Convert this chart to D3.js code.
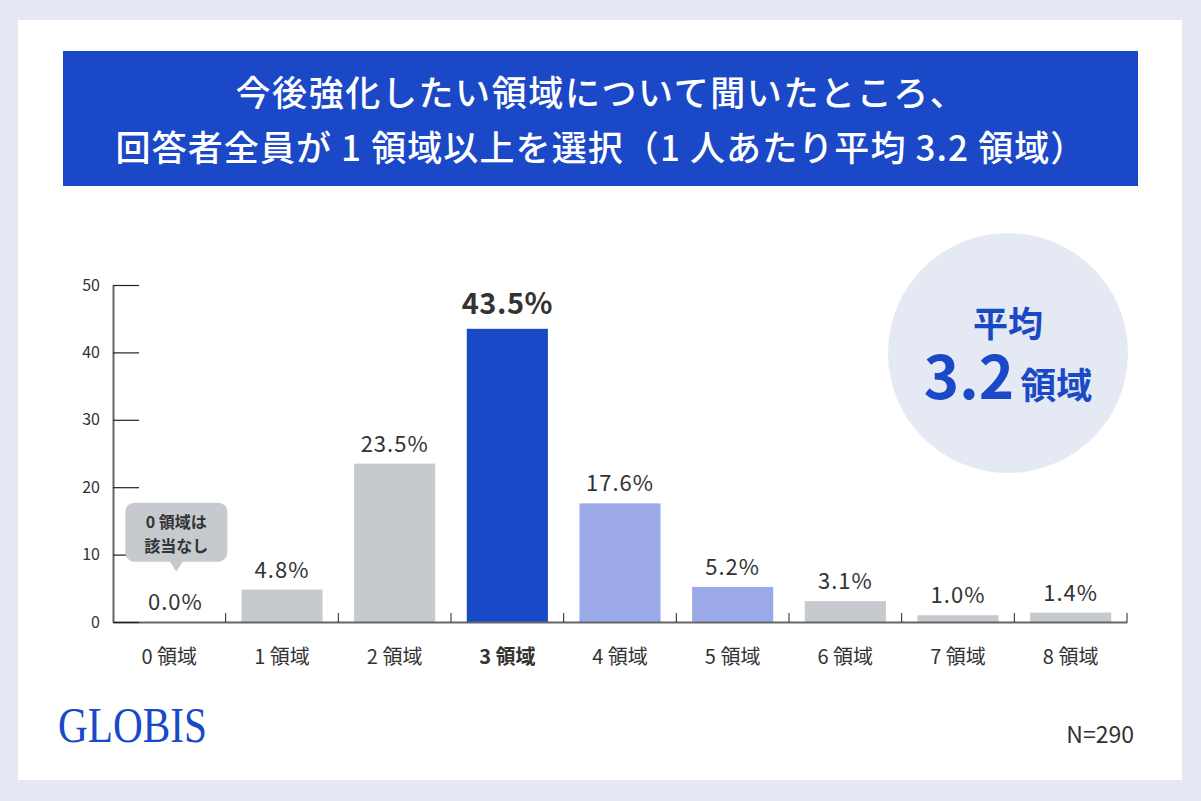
<!DOCTYPE html>
<html>
<head>
<meta charset="utf-8">
<script src="https://cdn.jsdelivr.net/npm/d3@7"></script>
<style>
  html, body { margin: 0; padding: 0; background: #e5e9f4; }
  svg { display: block; font-family: "Noto Sans CJK JP", "Noto Sans", sans-serif; }
</style>
</head>
<body>
<svg id="chart" width="1201" height="801"></svg>
<script>
// ---- data ----
const categories = ["0 領域", "1 領域", "2 領域", "3 領域", "4 領域", "5 領域", "6 領域", "7 領域", "8 領域"];
const values = [0.0, 4.8, 23.5, 43.5, 17.6, 5.2, 3.1, 1.0, 1.4];
const colorGroups = ["gray", "gray", "gray", "main", "light", "light", "gray", "gray", "gray"];
const yTicks = [0, 10, 20, 30, 40, 50];
const titleLines = ["今後強化したい領域について聞いたところ、", "回答者全員が 1 領域以上を選択（1 人あたり平均 3.2 領域）"];
const calloutLines = ["0 領域は", "該当なし"];
const averageLabel = "平均";
const averageValue = "3.2";
const averageUnit = "領域";
const highlightIndex = 3;
const sampleNote = "N=290";
const logoText = "GLOBIS";

const palette = { gray: "#c6c9ce", main: "#1a49c8", light: "#9ba9e8" };
const CJK = '"Noto Sans CJK JP", "Noto Sans", sans-serif';

const svg = d3.select("#chart");

// panel
svg.append("rect").attr("x", 18).attr("y", 20).attr("width", 1164).attr("height", 760).attr("fill", "#ffffff");

// title banner
svg.append("rect").attr("x", 63).attr("y", 51).attr("width", 1075).attr("height", 135).attr("fill", "#1b48c7");
svg.selectAll("text.title").data(titleLines).enter().append("text")
  .attr("class", "title")
  .attr("x", 601).attr("y", (d, i) => 106 + i * 55)
  .attr("text-anchor", "middle")
  .attr("fill", "#ffffff")
  .style("font-family", CJK)
  .style("font-size", "35px").style("font-weight", 500)
  .style("letter-spacing", (d, i) => i === 0 ? "1.6px" : "1.1px")
  .text(d => d);

// scales
const margin = { left: 113, right: 1127, top: 285, bottom: 622 };
const x = d3.scaleBand().domain(categories).range([margin.left, margin.right]).paddingInner(0.28).paddingOuter(0.14);
const y = d3.scaleLinear().domain([0, 50]).range([margin.bottom, margin.top]);

// bars
svg.selectAll("rect.bar").data(values).enter().append("rect")
  .attr("class", "bar")
  .attr("x", (d, i) => x(categories[i]))
  .attr("width", x.bandwidth())
  .attr("y", d => y(d))
  .attr("height", d => y(0) - y(d))
  .attr("fill", (d, i) => palette[colorGroups[i]]);

// x axis baseline
const xAxis = d3.axisBottom(x).tickSize(0).tickPadding(28);
const gx = svg.append("g").attr("transform", `translate(0,${y(0)})`).call(xAxis);
gx.select(".domain").attr("stroke", "#666").attr("stroke-width", 2);
gx.selectAll(".tick text")
  .style("font-family", CJK)
  .style("font-size", "20px")
  .style("font-weight", (d, i) => i === highlightIndex ? 700 : 400)
  .attr("fill", "#333");

// band boundary ticks (upward)
const boundaries = d3.range(1, categories.length + 1).map(i => margin.left + i * x.step());
svg.selectAll("line.bt").data(boundaries).enter().append("line")
  .attr("class", "bt")
  .attr("x1", d => d).attr("x2", d => d)
  .attr("y1", y(0) - 9).attr("y2", y(0))
  .attr("stroke", "#222").attr("stroke-width", 1);

// y axis
const yAxis = d3.axisLeft(y).tickValues(yTicks).tickSizeInner(-26).tickSizeOuter(0).tickPadding(13);
const gy = svg.append("g").attr("transform", `translate(${margin.left},0)`).call(yAxis);
gy.select(".domain").attr("stroke", "#666").attr("stroke-width", 2);
gy.selectAll(".tick line").attr("stroke", "#222").attr("stroke-width", 1.2);
gy.selectAll(".tick text").attr("fill", "#333")
  .style("font-family", CJK).style("font-size", "16px");

// value labels
svg.selectAll("text.val").data(values).enter().append("text")
  .attr("class", "val")
  .attr("x", (d, i) => x(categories[i]) + x.bandwidth() / 2 + (i === 0 ? 6 : 0))
  .attr("y", (d, i) => y(d) - (i === highlightIndex ? 15 : 12))
  .attr("text-anchor", "middle")
  .attr("fill", "#333")
  .style("font-family", CJK)
  .style("font-size", (d, i) => i === highlightIndex ? "29px" : "22px")
  .style("font-weight", (d, i) => i === highlightIndex ? 700 : 400)
  .style("letter-spacing", (d, i) => i === highlightIndex ? "0.5px" : "1px")
  .text(d => d.toFixed(1) + "%");

// callout bubble above category 0
const cx0 = x(categories[0]) + x.bandwidth() / 2 + 7;
const bw = 102, bh = 59, by = y(17.7);
const callout = svg.append("g");
callout.append("rect")
  .attr("x", cx0 - bw / 2).attr("y", by).attr("width", bw).attr("height", bh)
  .attr("rx", 9).attr("fill", palette.gray);
callout.append("path")
  .attr("d", `M${cx0 - 7},${by + bh - 1} L${cx0 + 7},${by + bh - 1} L${cx0},${by + bh + 10} Z`)
  .attr("fill", palette.gray);
callout.selectAll("text").data(calloutLines).enter().append("text")
  .attr("x", cx0).attr("y", (d, i) => by + 25 + i * 24)
  .attr("text-anchor", "middle")
  .attr("fill", "#333")
  .style("font-family", CJK).style("font-size", "16px").style("font-weight", 700)
  .text(d => d);

// average circle
svg.append("circle").attr("cx", 1008).attr("cy", 353).attr("r", 120).attr("fill", "#e5e9f4");
svg.append("text").attr("x", 1008).attr("y", 337).attr("text-anchor", "middle")
  .attr("fill", "#1a49c8")
  .style("font-family", CJK).style("font-size", "35px").style("font-weight", 700)
  .text(averageLabel);
const avg = svg.append("text").attr("x", 1008).attr("y", 399).attr("text-anchor", "middle")
  .attr("fill", "#1a49c8")
  .style("font-family", CJK).style("font-weight", 700);
avg.append("tspan").style("font-size", "60px").text(averageValue);
avg.append("tspan").style("font-size", "36px").attr("dx", 6).text(averageUnit);

// logo
svg.append("text").attr("x", 58).attr("y", 742)
  .style("font-family", '"Liberation Serif", "DejaVu Serif", serif')
  .style("font-size", "50px")
  .attr("fill", "#1a49c8")
  .attr("textLength", 149).attr("lengthAdjust", "spacingAndGlyphs")
  .text(logoText);

// sample size
svg.append("text").attr("x", 1134).attr("y", 743).attr("text-anchor", "end")
  .attr("fill", "#333")
  .style("font-family", CJK).style("font-size", "23px")
  .text(sampleNote);
</script>
</body>
</html>
